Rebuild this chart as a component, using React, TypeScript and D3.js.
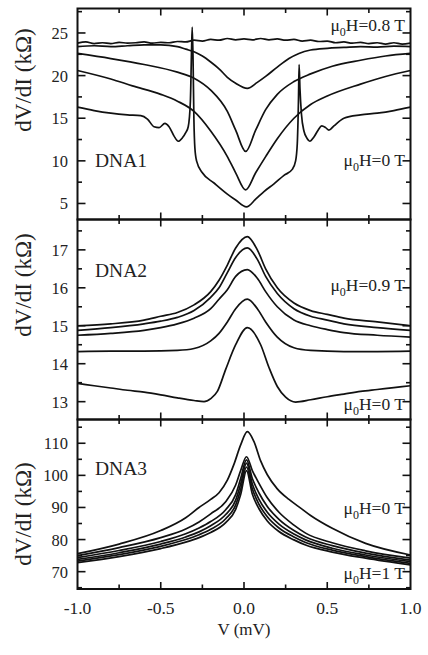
import React, { useEffect, useRef } from 'react';
import * as d3 from 'd3';

type Pt = [number, number];

// ---- DNA1 (top panel), dV/dI in kOhm vs V in mV ----
const dna1_08T: Pt[] = [
  [-1.0, 23.8], [-0.95, 23.95], [-0.9, 23.75], [-0.85, 23.85], [-0.8, 23.75], [-0.75, 23.9], [-0.7, 23.8],
  [-0.65, 23.85], [-0.6, 23.95], [-0.55, 23.8], [-0.5, 23.9], [-0.45, 23.85], [-0.4, 24.0], [-0.35, 23.95],
  [-0.3, 24.15], [-0.25, 24.05], [-0.2, 24.25], [-0.15, 24.15], [-0.1, 24.35], [-0.05, 24.2], [0.0, 24.3],
  [0.05, 24.2], [0.1, 24.35], [0.15, 24.2], [0.2, 24.3], [0.25, 24.15], [0.3, 24.25], [0.35, 24.05],
  [0.4, 24.15], [0.45, 24.0], [0.5, 24.05], [0.55, 23.85], [0.6, 23.95], [0.65, 23.8], [0.7, 23.9],
  [0.75, 23.75], [0.8, 23.85], [0.85, 23.7], [0.9, 23.85], [0.95, 23.7], [1.0, 23.8],
];
const dna1_06T: Pt[] = [
  [-1.0, 23.4], [-0.9, 23.5], [-0.8, 23.4], [-0.7, 23.5], [-0.6, 23.6], [-0.5, 23.6], [-0.4, 23.4],
  [-0.35, 23.1], [-0.3, 22.8], [-0.25, 22.3], [-0.2, 21.6], [-0.15, 20.8], [-0.1, 19.8], [-0.05, 19.1],
  [0.02, 18.5], [0.08, 19.2], [0.13, 19.9], [0.2, 21.0], [0.27, 22.0], [0.33, 22.6], [0.4, 23.0],
  [0.5, 23.2], [0.6, 23.3], [0.7, 23.4], [0.8, 23.35], [0.9, 23.45], [1.0, 23.4],
];
const dna1_04T: Pt[] = [
  [-1.0, 22.6], [-0.8, 22.0], [-0.6, 21.3], [-0.4, 20.4], [-0.3, 19.7], [-0.2, 18.3], [-0.1, 15.8],
  [-0.05, 13.6], [0.01, 11.1], [0.07, 13.6], [0.13, 16.0], [0.2, 17.8], [0.3, 19.3], [0.4, 20.2],
  [0.53, 21.1], [0.7, 21.8], [0.85, 22.3], [1.0, 22.6],
];
const dna1_02T: Pt[] = [
  [-1.0, 20.6], [-0.8, 19.6], [-0.67, 18.8], [-0.5, 17.8], [-0.4, 17.0], [-0.3, 15.8], [-0.2, 13.5],
  [-0.1, 10.5], [-0.05, 8.6], [0.01, 6.6], [0.07, 8.6], [0.13, 10.5], [0.2, 12.6], [0.3, 15.0],
  [0.4, 16.6], [0.5, 17.6], [0.7, 19.0], [0.85, 19.9], [1.0, 20.6],
];
const dna1_0T: Pt[] = [
  [-1.0, 16.3], [-0.9, 15.9], [-0.8, 15.6], [-0.7, 15.4], [-0.62, 15.3], [-0.58, 14.9], [-0.54, 14.0],
  [-0.51, 13.9], [-0.475, 14.4], [-0.45, 14.0], [-0.42, 12.9], [-0.395, 12.3], [-0.37, 12.7], [-0.35, 13.3],
  [-0.335, 14.0], [-0.322, 17.0], [-0.315, 23.0], [-0.311, 25.7], [-0.306, 22.0], [-0.301, 15.0],
  [-0.295, 11.5], [-0.285, 10.0], [-0.25, 8.6], [-0.18, 7.4], [-0.1, 6.1], [-0.05, 5.4], [0.015, 4.6],
  [0.07, 5.5], [0.12, 6.4], [0.18, 7.3], [0.24, 8.3], [0.29, 9.0], [0.31, 10.0], [0.32, 12.0],
  [0.327, 17.0], [0.331, 21.3], [0.336, 18.5], [0.345, 15.5], [0.36, 13.5], [0.38, 12.6], [0.395, 12.3],
  [0.42, 12.8], [0.445, 13.6], [0.467, 14.1], [0.49, 13.9], [0.51, 13.6], [0.54, 14.1], [0.6, 15.0],
  [0.7, 15.4], [0.8, 15.6], [0.9, 15.9], [1.0, 16.3],
];

// ---- DNA2 (middle panel) ----
const dna2_09T: Pt[] = [
  [-1.0, 15.0], [-0.8, 15.05], [-0.6, 15.15], [-0.5, 15.25], [-0.4, 15.35], [-0.3, 15.55], [-0.2, 15.9],
  [-0.15, 16.2], [-0.1, 16.6], [-0.05, 17.05], [0.02, 17.35], [0.08, 17.0], [0.13, 16.5], [0.2, 16.0],
  [0.3, 15.6], [0.4, 15.4], [0.5, 15.3], [0.6, 15.2], [0.8, 15.1], [1.0, 15.0],
];
const dna2_07T: Pt[] = [
  [-1.0, 14.88], [-0.8, 14.95], [-0.6, 15.05], [-0.5, 15.12], [-0.4, 15.22], [-0.3, 15.4], [-0.2, 15.75],
  [-0.15, 16.0], [-0.1, 16.4], [-0.05, 16.8], [0.02, 17.05], [0.08, 16.75], [0.13, 16.3], [0.2, 15.85],
  [0.3, 15.45], [0.4, 15.25], [0.5, 15.15], [0.6, 15.05], [0.8, 14.95], [1.0, 14.88],
];
const dna2_05T: Pt[] = [
  [-1.0, 14.75], [-0.8, 14.8], [-0.6, 14.88], [-0.5, 14.95], [-0.4, 15.05], [-0.3, 15.2], [-0.2, 15.45],
  [-0.15, 15.7], [-0.1, 15.95], [-0.05, 16.3], [0.02, 16.48], [0.08, 16.25], [0.13, 15.9], [0.2, 15.5],
  [0.3, 15.15], [0.4, 15.0], [0.5, 14.9], [0.6, 14.82], [0.8, 14.75], [1.0, 14.7],
];
const dna2_03T: Pt[] = [
  [-1.0, 14.32], [-0.8, 14.33], [-0.6, 14.33], [-0.4, 14.35], [-0.3, 14.4], [-0.2, 14.6], [-0.15, 14.8],
  [-0.1, 15.1], [-0.05, 15.45], [0.02, 15.7], [0.08, 15.45], [0.13, 15.1], [0.2, 14.7], [0.3, 14.42],
  [0.4, 14.35], [0.6, 14.32], [0.8, 14.32], [1.0, 14.33],
];
const dna2_0T: Pt[] = [
  [-1.0, 13.48], [-0.9, 13.42], [-0.8, 13.36], [-0.7, 13.3], [-0.6, 13.25], [-0.5, 13.18], [-0.4, 13.1],
  [-0.3, 13.03], [-0.24, 13.0], [-0.2, 13.08], [-0.16, 13.27], [-0.11, 13.85], [-0.05, 14.5], [0.02, 14.95],
  [0.1, 14.5], [0.15, 13.9], [0.2, 13.4], [0.25, 13.12], [0.31, 12.99], [0.4, 13.05], [0.5, 13.13],
  [0.6, 13.2], [0.7, 13.27], [0.8, 13.32], [0.9, 13.37], [1.0, 13.42],
];

// ---- DNA3 (bottom panel) ----
const dna3_0T: Pt[] = [
  [-1.0, 75.6], [-0.75, 78.6], [-0.5, 82.8], [-0.35, 86.8], [-0.27, 90.0], [-0.2, 92.5], [-0.15, 94.6],
  [-0.1, 98.5], [-0.06, 103.5], [-0.02, 109.5], [0.02, 113.6], [0.06, 110.5], [0.1, 104.5], [0.14, 100.2],
  [0.2, 95.8], [0.27, 92.5], [0.33, 90.2], [0.4, 87.5], [0.53, 83.5], [0.73, 78.8], [1.0, 75.2],
];
const dna3_02T: Pt[] = [
  [-1.0, 75.0], [-0.75, 77.5], [-0.5, 80.6], [-0.35, 83.3], [-0.27, 85.5], [-0.2, 88.0], [-0.11, 91.8],
  [-0.05, 97.0], [-0.02, 101.5], [0.015, 105.8], [0.05, 101.5], [0.09, 97.5], [0.14, 93.0], [0.21, 88.5],
  [0.3, 84.5], [0.37, 82.0], [0.53, 79.0], [0.73, 76.5], [1.0, 74.2],
];
const dna3_04T: Pt[] = [
  [-1.0, 74.4], [-0.75, 76.6], [-0.5, 79.4], [-0.35, 81.8], [-0.27, 83.6], [-0.2, 85.6], [-0.11, 89.3],
  [-0.05, 94.0], [-0.02, 99.0], [0.015, 104.8], [0.05, 99.0], [0.09, 94.5], [0.14, 90.3], [0.21, 86.3],
  [0.3, 82.8], [0.37, 80.8], [0.53, 78.1], [0.73, 75.8], [1.0, 73.6],
];
const dna3_06T: Pt[] = [
  [-1.0, 73.8], [-0.75, 75.9], [-0.5, 78.6], [-0.35, 80.8], [-0.27, 82.4], [-0.2, 84.3], [-0.11, 87.8],
  [-0.05, 92.3], [-0.02, 97.3], [0.015, 103.8], [0.05, 97.3], [0.09, 92.5], [0.14, 88.5], [0.21, 84.8],
  [0.3, 81.7], [0.37, 79.9], [0.53, 77.3], [0.73, 75.2], [1.0, 73.1],
];
const dna3_08T: Pt[] = [
  [-1.0, 73.3], [-0.75, 75.3], [-0.5, 77.9], [-0.35, 80.0], [-0.27, 81.5], [-0.2, 83.2], [-0.11, 86.5],
  [-0.05, 90.8], [-0.02, 95.6], [0.015, 102.6], [0.05, 95.8], [0.09, 91.0], [0.14, 87.1], [0.21, 83.6],
  [0.3, 80.8], [0.37, 79.1], [0.53, 76.7], [0.73, 74.7], [1.0, 72.6],
];
const dna3_1T: Pt[] = [
  [-1.0, 72.8], [-0.75, 74.7], [-0.5, 77.2], [-0.35, 79.2], [-0.27, 80.6], [-0.2, 82.2], [-0.11, 85.3],
  [-0.05, 89.4], [-0.02, 94.0], [0.015, 101.5], [0.05, 94.2], [0.09, 89.6], [0.14, 85.8], [0.21, 82.5],
  [0.3, 79.9], [0.37, 78.3], [0.53, 76.1], [0.73, 74.2], [1.0, 72.1],
];

// axis ticks / labels
const xTickLabels = ['-1.0', '-0.5', '0.0', '0.5', '1.0'];
const dna1Ticks = [5, 10, 15, 20, 25];
const dna2Ticks = [13, 14, 15, 16, 17];
const dna3Ticks = [70, 80, 90, 100, 110];

const svgWidth = 428, svgHeight = 655;
const plotLeft = 77.5, plotRight = 410.5;
const FONT = 'Liberation Serif, Tinos, Times New Roman, DejaVu Serif, serif';

export default function App() {
  const svgRef = useRef<SVGSVGElement>(null);

  useEffect(() => {
    const svg = d3.select(svgRef.current);
    svg.selectAll('*').remove();

    const x = d3.scaleLinear().domain([-1, 1]).range([plotLeft, plotRight]);

    const panels = [
      {
        top: 8.5, bottom: 219.5, domain: [3.12, 27.87], major: dna1Ticks, minor: 2.5,
        series: [dna1_08T, dna1_06T, dna1_04T, dna1_02T, dna1_0T],
        name: 'DNA1', nameY: 167, labelY: 80,
        notes: [{ text: '0.8', y: 31 }, { text: '0', y: 166 }],
      },
      {
        top: 219.5, bottom: 419.5, domain: [12.53, 17.8], major: dna2Ticks, minor: 0.5,
        series: [dna2_09T, dna2_07T, dna2_05T, dna2_03T, dna2_0T],
        name: 'DNA2', nameY: 277, labelY: 285,
        notes: [{ text: '0.9', y: 291 }, { text: '0', y: 410 }],
      },
      {
        top: 419.5, bottom: 589, domain: [64.6, 117.4], major: dna3Ticks, minor: 5,
        series: [dna3_0T, dna3_02T, dna3_04T, dna3_06T, dna3_08T, dna3_1T],
        name: 'DNA3', nameY: 475, labelY: 514,
        notes: [{ text: '0', y: 514 }, { text: '1', y: 579 }],
      },
    ];

    panels.forEach(p => {
      const y = d3.scaleLinear().domain(p.domain).range([p.bottom, p.top]);
      const g = svg.append('g');

      const line = d3.line<Pt>()
        .x(d => x(d[0]))
        .y(d => y(d[1]))
        .curve(d3.curveMonotoneX);

      p.series.forEach(s => {
        g.append('path')
          .attr('d', line(s))
          .attr('fill', 'none')
          .attr('stroke', '#111')
          .attr('stroke-width', 1.7)
          .attr('stroke-linejoin', 'round');
      });

      // y ticks (inward on both sides)
      const minorVals = d3.range(Math.ceil(p.domain[0] / p.minor) * p.minor, p.domain[1], p.minor)
        .filter(v => !p.major.some(m => Math.abs(m - v) < 1e-6));
      const drawY = (vals: number[], len: number) => {
        vals.forEach(v => {
          g.append('line').attr('x1', plotLeft).attr('x2', plotLeft + len)
            .attr('y1', y(v)).attr('y2', y(v)).attr('stroke', '#111').attr('stroke-width', 1.6);
          g.append('line').attr('x1', plotRight).attr('x2', plotRight - len)
            .attr('y1', y(v)).attr('y2', y(v)).attr('stroke', '#111').attr('stroke-width', 1.6);
        });
      };
      drawY(p.major, 8);
      drawY(minorVals, 4.5);

      // x ticks on top and bottom edges
      const xMajor = [-0.5, 0, 0.5];
      const xMinor = [-0.75, -0.25, 0.25, 0.75];
      const drawX = (vals: number[], len: number) => {
        vals.forEach(v => {
          g.append('line').attr('x1', x(v)).attr('x2', x(v))
            .attr('y1', p.bottom).attr('y2', p.bottom - len).attr('stroke', '#111').attr('stroke-width', 1.6);
          g.append('line').attr('x1', x(v)).attr('x2', x(v))
            .attr('y1', p.top).attr('y2', p.top + len).attr('stroke', '#111').attr('stroke-width', 1.6);
        });
      };
      drawX(xMajor, 7);
      drawX(xMinor, 4.5);

      // frame
      g.append('rect')
        .attr('x', plotLeft).attr('y', p.top)
        .attr('width', plotRight - plotLeft).attr('height', p.bottom - p.top)
        .attr('fill', 'none').attr('stroke', '#111').attr('stroke-width', 2);

      // y tick labels
      p.major.forEach(v => {
        g.append('text')
          .attr('x', 68).attr('y', y(v)).attr('dy', '0.36em')
          .attr('text-anchor', 'end')
          .style('font-family', FONT).attr('font-size', 16.5).attr('fill', '#222')
          .text(v);
      });

      // y axis label
      g.append('text')
        .attr('transform', `translate(31,${p.labelY}) rotate(-90)`)
        .attr('text-anchor', 'middle')
        .style('font-family', FONT).attr('font-size', 23).attr('fill', '#222')
        .text('dV/dI (kΩ)');

      // sample name
      g.append('text')
        .attr('x', 95).attr('y', p.nameY)
        .style('font-family', FONT).attr('font-size', 19.5).attr('fill', '#222')
        .text(p.name);

      // field annotations
      p.notes.forEach(n => {
        const t = g.append('text')
          .attr('x', 405).attr('y', n.y)
          .attr('text-anchor', 'end')
          .style('font-family', FONT).attr('font-size', 17.5).attr('fill', '#222');
        t.append('tspan').text('μ');
        t.append('tspan').attr('dy', 5).attr('font-size', 12).text('0');
        t.append('tspan').attr('dy', -5).text(`H=${n.text} T`);
      });
    });

    // x tick labels and axis title under the bottom panel
    xTickLabels.forEach(v => {
      svg.append('text')
        .attr('x', x(+v)).attr('y', 614)
        .attr('text-anchor', 'middle')
        .style('font-family', FONT).attr('font-size', 17.5).attr('fill', '#222')
        .text(v);
    });
    svg.append('text')
      .attr('x', x(0)).attr('y', 635)
      .attr('text-anchor', 'middle')
      .style('font-family', FONT).attr('font-size', 17).attr('fill', '#222')
      .text('V (mV)');
  }, []);

  return (
    <svg
      ref={svgRef}
      width={svgWidth}
      height={svgHeight}
      style={{ position: 'absolute', left: 0, top: 0, background: '#fff' }}
    />
  );
}
